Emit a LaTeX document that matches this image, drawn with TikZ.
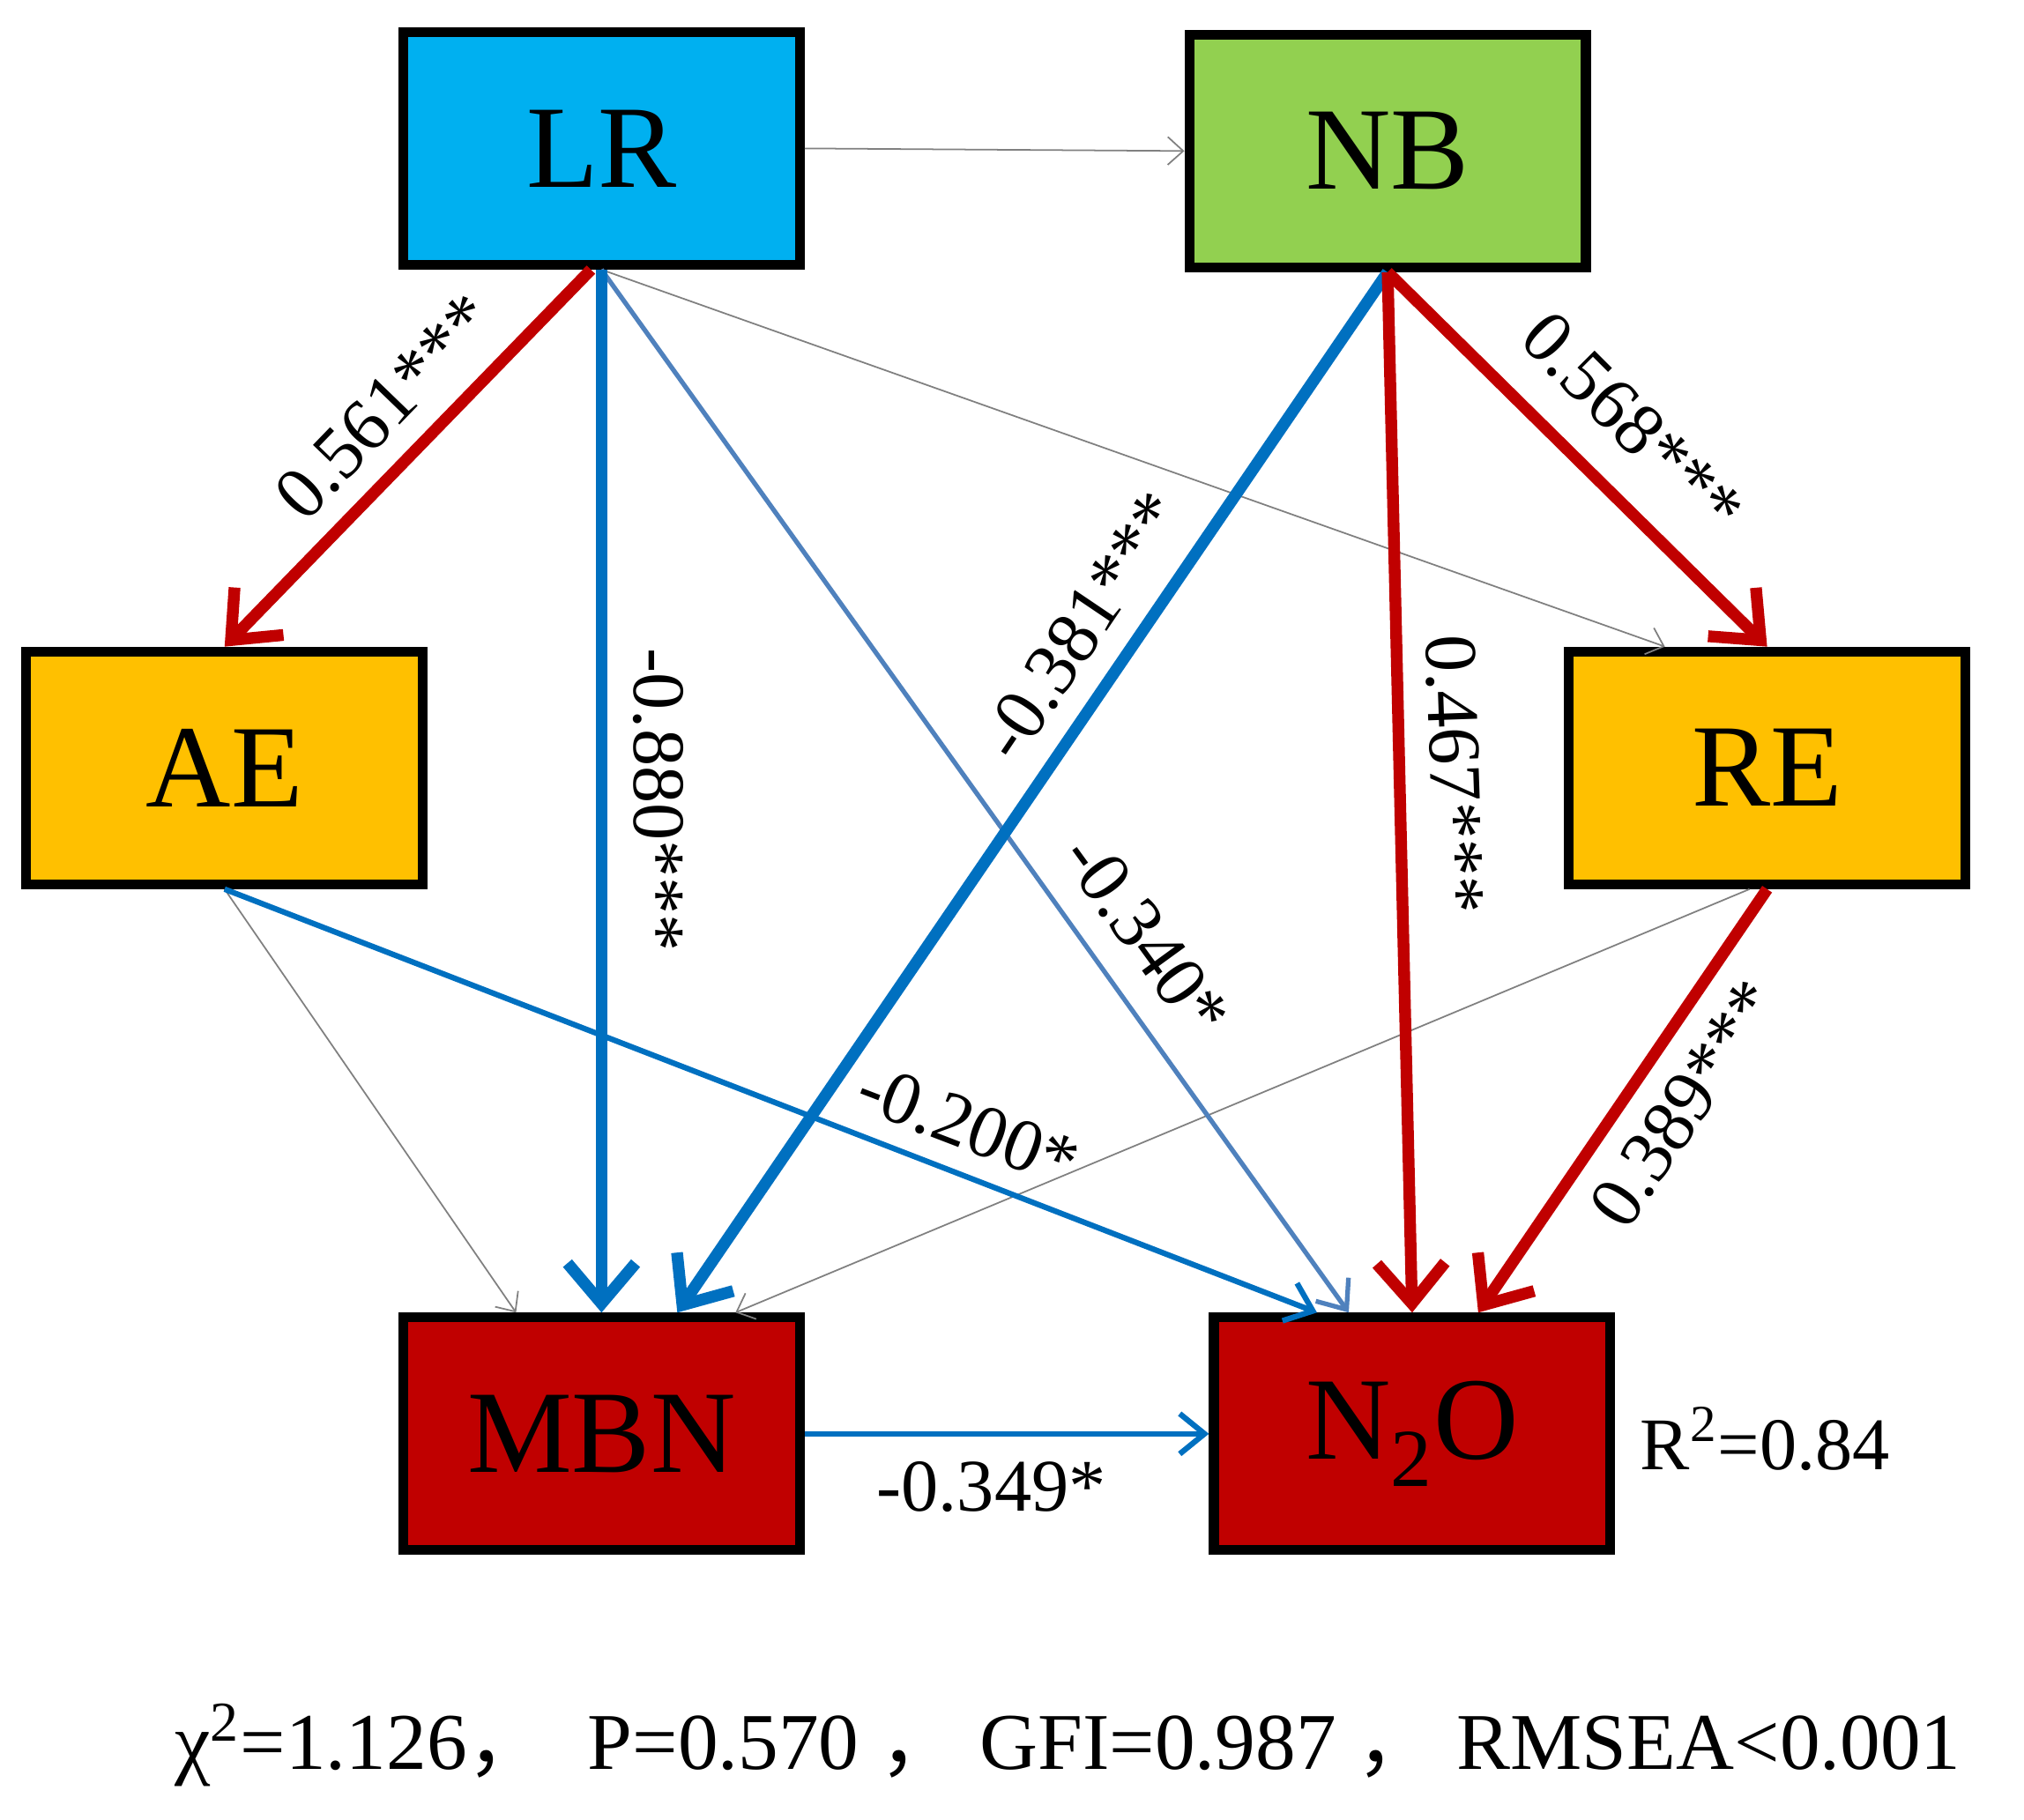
\documentclass[tikz,border=0pt]{standalone}
\usepackage{fontspec}
\setmainfont{Liberation Serif}
\newfontfamily\cjk{Noto Sans CJK SC}
\usetikzlibrary{arrows.meta}
\definecolor{cLR}{HTML}{00B0F0}
\definecolor{cNB}{HTML}{92D050}
\definecolor{cYE}{HTML}{FFC000}
\definecolor{cRD}{HTML}{C00000}
\definecolor{cBL}{HTML}{0070C0}
\definecolor{cBL2}{HTML}{4F81BD}
\begin{document}
\begin{tikzpicture}[x=0.014643cm,y=-0.014643cm,
  box/.style={draw=black,line width=3.2pt,minimum width=4.5cm,minimum height=2.64cm,inner sep=0pt,font=\fontsize{38}{40}\selectfont},
  thickred/.style={draw=cRD,line width=3.8pt,-{Straight Barb[length=13pt,width=22pt]}},
  thickblue/.style={draw=cBL,line width=3.8pt,-{Straight Barb[length=13pt,width=22pt]}},
  medblue/.style={draw=cBL,line width=1.8pt,-{Straight Barb[length=8pt,width=13pt]}},
  medblue2/.style={draw=cBL2,line width=1.5pt,-{Straight Barb[length=8pt,width=13pt]}},
  thin/.style={draw=gray,line width=0.5pt,-{Straight Barb[length=5pt,width=9pt]}},
  lab/.style={font=\fontsize{24}{26}\selectfont,inner sep=1pt}]
\useasboundingbox (0,0) rectangle (1568,1410);
\node[box,fill=cLR] (LR) at (466,115) {LR};
\node[box,fill=cNB] (NB) at (1075,117) {NB};
\node[box,fill=cYE] (AE) at (174,595) {AE};
\node[box,fill=cYE] (RE) at (1369,595) {RE};
\node[box,fill=cRD] (MBN) at (466,1111) {MBN};
\node[box,fill=cRD] (N2O) at (1094,1111) {N\textsubscript{2}O};

\draw[thin] (LR.east) -- (NB.west);
\draw[thin] (LR.south) -- ([xshift=-1.16cm]RE.north);
\draw[thin] (AE.south) -- ([xshift=-0.97cm]MBN.north);
\draw[thin] ([xshift=-0.2cm]RE.south) -- ([xshift=1.52cm]MBN.north);
\draw[medblue2] (LR.south) -- ([xshift=-0.72cm]N2O.north);
\draw[medblue] (AE.south) -- ([xshift=-1.08cm]N2O.north);
\draw[medblue] (MBN.east) -- (N2O.west);
\draw[thickred] ([xshift=-0.12cm]LR.south) -- (AE.north);
\draw[thickblue] (LR.south) -- (MBN.north);
\draw[thickblue] (NB.south) -- ([xshift=0.86cm]MBN.north);
\draw[thickred] (NB.south) -- (N2O.north);
\draw[thickred] (NB.south) -- (RE.north);
\draw[thickred] (RE.south) -- ([xshift=0.75cm]N2O.north);

\node[lab,rotate=46] (l1) at (298,315) {0.561***};
\node[lab,rotate=-90] (l2) at (510,620) {-0.880***};
\node[lab,rotate=-54] (l3) at (888,725) {-0.340*};
\node[lab,rotate=56] (l4) at (838,485) {-0.381***};
\node[lab,rotate=-88] (l5) at (1127,600) {0.467***};
\node[lab,rotate=-45] (l6) at (1265,328) {0.568***};
\node[lab,rotate=-21] (l7) at (750,872) {-0.200*};
\node[lab,rotate=56] (l8) at (1305,855) {0.389***};
\node[lab] (l9) at (768,1152) {-0.349*};
\node[lab,anchor=west] (r2) at (1268,1115) {R\textsuperscript{2}=0.84};
\node[font=\fontsize{26}{28}\selectfont,inner sep=0pt,anchor=west] (fit) at (135,1352)
 {χ\textsuperscript{2}=1.126{\cjk ，}\enspace P=0.570 {\cjk ，} GFI=0.987 {\cjk ，} RMSEA<0.001};
\end{tikzpicture}
\end{document}
